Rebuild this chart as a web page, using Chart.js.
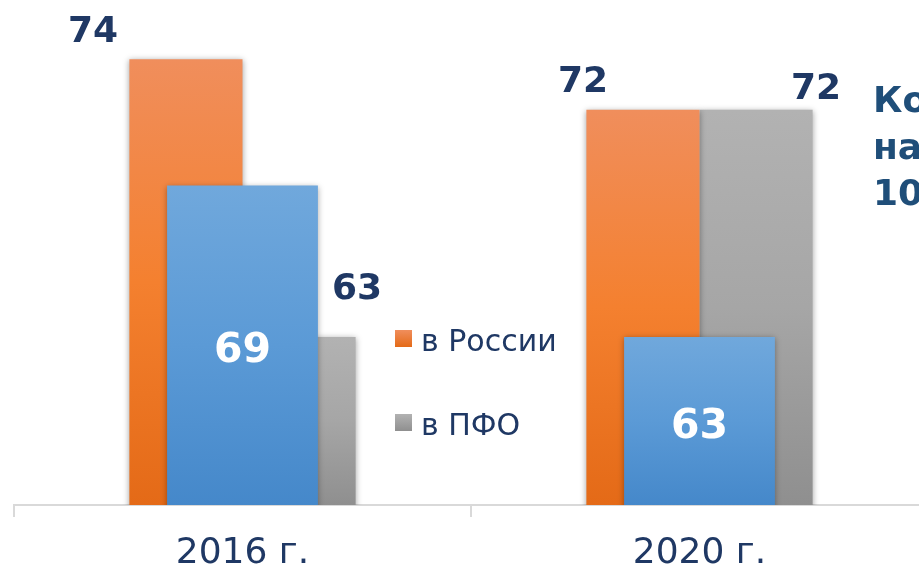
<!DOCTYPE html>
<html lang="ru">
<head>
<meta charset="utf-8">
<script src="https://cdn.jsdelivr.net/npm/chart.js@4.4.1/dist/chart.umd.min.js"></script>
<style>
    html, body { margin: 0; padding: 0; background: #fff; overflow: hidden; }
    #contenedor { position: relative; width: 940px; height: 568px; }
</style>
</head>
<body>
<div id="contenedor">
    <canvas id="graficoBarras"></canvas>
</div>
<script>
// Datos del gráfico
const categorias = ['2016 г.', '2020 г.'];
const valoresRossii = [74, 72];     // в России
const valoresPFO = [63, 72];        // в ПФО
const valoresRegion = [69, 63];     // barra azul superpuesta
const textoLateral = ['Ко', 'на', '10'];

// Colores (arriba, centro, abajo)
const coloresRossii = ['#F08E5C', '#F4802F', '#E46A17'];
const coloresPFO = ['#B2B2B2', '#A6A6A6', '#8F8F8F'];
const coloresRegion = ['#70A8DC', '#5B9AD6', '#4588CA'];

// Desplazamiento de las etiquetas respecto a la barra
const etiquetasRossii = { dx: [-93, -60], dy: [-17, -18] };
const etiquetasPFO = { dx: [58, 60], dy: [-38, -11] };

function degradado(chart, colores, valor) {
    const area = chart.chartArea;
    if (!area || valor === undefined) return colores[1];
    const arriba = chart.scales.y.getPixelForValue(valor);
    const g = chart.ctx.createLinearGradient(0, arriba, 0, area.bottom);
    g.addColorStop(0, colores[0]);
    g.addColorStop(0.5, colores[1]);
    g.addColorStop(1, colores[2]);
    return g;
}

// Plugin: sombras, etiquetas, leyenda y texto lateral
const pluginDecoracion = {
    id: 'decoracion',
    beforeDatasetsDraw(chart) {
        const c = chart.ctx;
        c.save();
        c.shadowColor = 'rgba(0, 0, 0, 0.35)';
        c.shadowBlur = 6;
        c.shadowOffsetX = 0;
        c.shadowOffsetY = 1;
    },
    afterDatasetsDraw(chart) {
        const c = chart.ctx;
        c.restore();
        c.save();
        const escalaY = chart.scales.y;
        const abajo = chart.chartArea.bottom;

        // Etiquetas de valores
        chart.data.datasets.forEach((ds, i) => {
            const meta = chart.getDatasetMeta(i);
            meta.data.forEach((barra, j) => {
                const valor = ds.data[j];
                const arriba = escalaY.getPixelForValue(valor);
                c.textAlign = 'center';
                c.textBaseline = 'alphabetic';
                if (ds.etiquetas) {
                    c.fillStyle = '#1F3864';
                    c.font = 'bold 36px "DejaVu Sans"';
                    c.fillText(String(valor), barra.x + ds.etiquetas.dx[j], arriba + ds.etiquetas.dy[j]);
                } else {
                    c.fillStyle = '#FFFFFF';
                    c.font = 'bold 41px "DejaVu Sans"';
                    c.fillText(String(valor), barra.x, (arriba + abajo) / 2 + 17);
                }
            });
        });

        // Leyenda (solo las dos primeras series)
        const leyenda = [
            { texto: chart.data.datasets[0].label, colores: coloresRossii, y: 351 },
            { texto: chart.data.datasets[1].label, colores: coloresPFO, y: 435 }
        ];
        leyenda.forEach(item => {
            const top = item.y - 21;
            const g = c.createLinearGradient(0, top, 0, top + 17);
            g.addColorStop(0, item.colores[0]);
            g.addColorStop(1, item.colores[2]);
            c.fillStyle = g;
            c.fillRect(395, top, 17, 17);
            c.fillStyle = '#1F3864';
            c.font = '30px "DejaVu Sans"';
            c.textAlign = 'left';
            c.fillText(item.texto, 421, item.y);
        });

        // Texto lateral cortado
        c.fillStyle = '#1F4E79';
        c.font = 'bold 36px "DejaVu Sans"';
        c.textAlign = 'left';
        textoLateral.forEach((t, k) => {
            c.fillText(t, 873, 112 + k * 46.5);
        });
        c.restore();
    }
};

const ctx = document.getElementById('graficoBarras');

const config = {
    type: 'bar',
    data: {
        labels: categorias,
        datasets: [
            {
                label: 'в России',
                data: valoresRossii,
                order: 2,
                categoryPercentage: 0.495,
                barPercentage: 1,
                backgroundColor: c => degradado(c.chart, coloresRossii, c.raw),
                etiquetas: etiquetasRossii
            },
            {
                label: 'в ПФО',
                data: valoresPFO,
                order: 2,
                categoryPercentage: 0.495,
                barPercentage: 1,
                backgroundColor: c => degradado(c.chart, coloresPFO, c.raw),
                etiquetas: etiquetasPFO
            },
            {
                label: 'регион',
                data: valoresRegion,
                order: 1,
                grouped: false,
                categoryPercentage: 0.33,
                barPercentage: 1,
                backgroundColor: c => degradado(c.chart, coloresRegion, c.raw)
            }
        ]
    },
    options: {
        responsive: true,
        maintainAspectRatio: false,
        animation: false,
        layout: { padding: { left: 14, right: 12, top: 0, bottom: 0 } },
        plugins: {
            legend: { display: false },
            tooltip: { enabled: false }
        },
        scales: {
            x: {
                offset: true,
                grid: {
                    offset: true,
                    drawOnChartArea: false,
                    drawTicks: true,
                    tickLength: 12,
                    color: '#D9D9D9',
                    lineWidth: 2
                },
                border: { display: true, color: '#D9D9D9', width: 2 },
                ticks: {
                    color: '#1F3864',
                    font: { family: 'DejaVu Sans', size: 36 },
                    padding: 15
                },
                afterFit: s => { s.height = 63; }
            },
            y: {
                display: false,
                min: 56.35,
                max: 76.35
            }
        }
    },
    plugins: [pluginDecoracion]
};

const graficoBarras = new Chart(ctx, config);
</script>
</body>
</html>
